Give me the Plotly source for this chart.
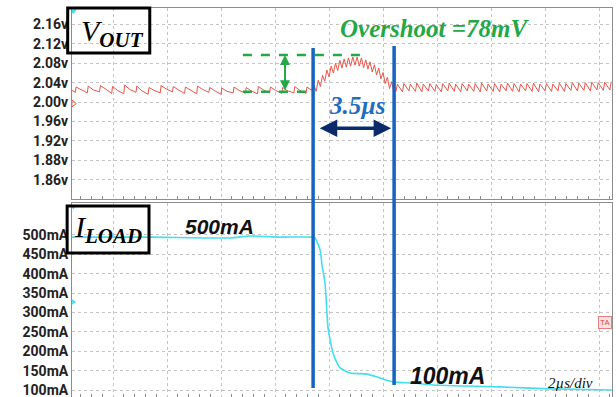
import plotly.graph_objects as go

# ---------------- data (time in µs, Vout in V, Iload in mA) ----------------
pre_t = [-1.52, -1.40, -1.37, -1.18, -0.95, -0.92, -0.73, -0.50, -0.47, -0.28, -0.05, -0.02, 0.17,
         0.40, 0.43, 0.62, 0.85, 0.88, 1.07, 1.30, 1.33, 1.52, 1.75, 1.78, 1.97, 2.20, 2.23, 2.42,
         2.65, 2.68, 2.87, 3.10, 3.13, 3.32, 3.55, 3.58, 3.77, 4.00, 4.03, 4.22, 4.45, 4.48, 4.67,
         4.90, 4.93, 5.12, 5.35, 5.38, 5.57, 5.80, 5.83, 6.02, 6.25, 6.28, 6.47, 6.70, 6.73, 6.92,
         7.15, 7.18, 7.37]
pre_v = [2.024, 2.020, 2.031, 2.026, 2.019, 2.033, 2.025, 2.021, 2.034, 2.027, 2.018, 2.032, 2.024,
         2.017, 2.035, 2.026, 2.020, 2.033, 2.023, 2.016, 2.030, 2.024, 2.019, 2.034, 2.027, 2.021,
         2.032, 2.025, 2.018, 2.031, 2.024, 2.017, 2.033, 2.026, 2.020, 2.030, 2.023, 2.016, 2.029,
         2.022, 2.019, 2.031, 2.024, 2.018, 2.030, 2.023, 2.017, 2.032, 2.025, 2.019, 2.031, 2.024,
         2.018, 2.030, 2.023, 2.019, 2.032, 2.024, 2.018, 2.031, 2.024]

hump_t = [7.44, 7.52, 7.60, 7.68, 7.76, 7.84, 7.92, 8.00, 8.08, 8.16, 8.24, 8.32, 8.40, 8.48, 8.56,
          8.64, 8.72, 8.80, 8.88, 8.96, 9.04, 9.12, 9.20, 9.28, 9.36, 9.44, 9.52, 9.60, 9.68, 9.76,
          9.84, 9.92, 10.00, 10.08, 10.16, 10.24, 10.32, 10.40]
hump_v = [2.035, 2.022, 2.045, 2.032, 2.055, 2.043, 2.066, 2.052, 2.074, 2.060, 2.080, 2.065, 2.086,
          2.070, 2.089, 2.072, 2.091, 2.074, 2.093, 2.076, 2.093, 2.074, 2.091, 2.071, 2.087, 2.068,
          2.083, 2.062, 2.077, 2.056, 2.070, 2.048, 2.061, 2.038, 2.051, 2.028, 2.042, 2.020]

post_t = [10.48, 10.53, 10.72, 10.77, 10.96, 11.01, 11.20, 11.25, 11.44, 11.49, 11.68, 11.73,
          11.92, 11.97, 12.16, 12.21, 12.40, 12.45, 12.64, 12.69, 12.88, 12.93, 13.12, 13.17,
          13.36, 13.41, 13.60, 13.65, 13.84, 13.89, 14.08, 14.13, 14.32, 14.37, 14.56, 14.61,
          14.80, 14.85, 15.04, 15.09, 15.28, 15.33, 15.52, 15.57, 15.76, 15.81, 16.00, 16.05,
          16.24, 16.29, 16.48, 16.53, 16.72, 16.77, 16.96, 17.01, 17.20, 17.25, 17.44, 17.49,
          17.68, 17.73, 17.92, 17.97, 18.16, 18.21, 18.40, 18.45]
post_v = [2.022, 2.037, 2.021, 2.038, 2.023, 2.037, 2.022, 2.039, 2.021, 2.037, 2.023, 2.038,
          2.022, 2.036, 2.021, 2.038, 2.023, 2.039, 2.022, 2.037, 2.021, 2.038, 2.023, 2.037,
          2.022, 2.038, 2.021, 2.039, 2.023, 2.037, 2.022, 2.038, 2.021, 2.037, 2.023, 2.039,
          2.022, 2.038, 2.021, 2.037, 2.023, 2.038, 2.022, 2.039, 2.021, 2.037, 2.023, 2.038,
          2.022, 2.037, 2.023, 2.039, 2.022, 2.038, 2.024, 2.040, 2.023, 2.039, 2.024, 2.040,
          2.023, 2.041, 2.025, 2.040, 2.024, 2.041, 2.025, 2.042]

iload_t = [-1.52, 1.37, 4.33, 5.07, 6.19, 7.41, 7.48, 7.67, 7.74, 7.85, 7.96, 8.04, 8.15, 8.26,
           8.41, 8.78, 9.41, 9.89, 10.37, 11.11, 11.85, 14.33, 16.19, 18.48]
iload_ma = [494, 494, 492, 497, 494, 494, 492, 461, 422, 376, 262, 229, 195, 175,
            157, 144, 141, 131, 121, 118, 113, 108, 103, 100]

v_ticks = [2.16, 2.12, 2.08, 2.04, 2.00, 1.96, 1.92, 1.88, 1.84]
v_ticktext = ["2.16v", "2.12v", "2.08v", "2.04v", "2.00v", "1.96v", "1.92v", "1.88v", "1.86v"]
i_ticks = [500, 450, 400, 350, 300, 250, 200, 150, 100]
i_ticktext = ["500mA", "450mA", "400mA", "350mA", "300mA", "250mA", "200mA", "150mA", "100mA"]

t_step_start, t_step_end = 7.41, 10.41
v_base, v_peak = 2.021, 2.097

# ---------------- figure ----------------
def pairs(t, v):
    n = min(len(t), len(v))
    return list(t[:n]), list(v[:n])

vt = []; vv = []
for a, b in [(pre_t, pre_v), (hump_t, hump_v), (post_t, post_v)]:
    x, y = pairs(a, b)
    vt += x; vv += y

RED = "#E8564A"
CYAN = "#45DDF0"
GREEN = "#23A845"
BLUE = "#1565C0"
NAVY = "#0B2A6A"
GRID = "#C4C4C4"
FRAME = "#8C8C8C"

fig = go.Figure()
fig.add_trace(go.Scatter(x=vt, y=vv, mode="lines", line=dict(color=RED, width=1.0),
                         xaxis="x", yaxis="y", hoverinfo="skip"))
fig.add_trace(go.Scatter(x=iload_t, y=iload_ma, mode="lines", line=dict(color=CYAN, width=1.6, shape="spline", smoothing=0.6),
                         xaxis="x2", yaxis="y2", hoverinfo="skip"))
# scope channel markers
fig.add_trace(go.Scatter(x=[-1.47], y=[1.997], mode="markers",
                         marker=dict(symbol="triangle-right-open", color=RED, size=6, line=dict(width=1)),
                         xaxis="x", yaxis="y", hoverinfo="skip"))
fig.add_trace(go.Scatter(x=[-1.47], y=[2.188], mode="markers",
                         marker=dict(symbol="triangle-down", color=CYAN, size=6),
                         xaxis="x", yaxis="y", hoverinfo="skip"))
fig.add_trace(go.Scatter(x=[-1.47, -1.47], y=[572, 327], mode="markers",
                         marker=dict(symbol=["triangle-down", "triangle-right"], color=CYAN, size=5),
                         xaxis="x2", yaxis="y2", hoverinfo="skip"))

xcommon = dict(range=[-1.52, 18.48], tick0=0, dtick=2, showticklabels=False, showgrid=True,
               gridcolor=GRID, griddash="dot", gridwidth=1, zeroline=False,
               showline=True, linecolor=FRAME, linewidth=1, mirror=True,
               ticks="", minor=dict(ticks="inside", dtick=0.4, ticklen=3, tickcolor=FRAME, showgrid=False))
ycommon = dict(tickmode="array", showgrid=True, gridcolor=GRID, griddash="dot", gridwidth=1,
               zeroline=False, showline=True, linecolor=FRAME, linewidth=1, mirror=True,
               ticks="", ticklabeloverflow="allow",
               tickfont=dict(family="Roboto", size=14, color="#222222", weight="bold"))

fig.update_layout(
    width=616, height=397,
    margin=dict(l=72, r=4, t=8, b=0),
    paper_bgcolor="white", plot_bgcolor="white",
    showlegend=False,
    xaxis=dict(domain=[0, 1], anchor="y", **xcommon),
    xaxis2=dict(domain=[0, 1], anchor="y2", matches="x", **xcommon),
    yaxis=dict(domain=[0.509, 1.0], anchor="x", range=[1.80, 2.194],
               tickvals=v_ticks, ticktext=v_ticktext, **ycommon),
    yaxis2=dict(domain=[0.0, 0.4987], anchor="x2", range=[82, 582],
                tickvals=i_ticks, ticktext=i_ticktext, **ycommon),
)

shapes = []
# label boxes
shapes.append(dict(type="rect", xref="paper", yref="paper", x0=-0.008, x1=0.144, y0=0.884, y1=1.0,
                   line=dict(color="black", width=3), fillcolor="rgba(0,0,0,0)", layer="above"))
shapes.append(dict(type="rect", xref="paper", yref="paper", x0=-0.009, x1=0.1426, y0=0.370, y1=0.491,
                   line=dict(color="black", width=3), fillcolor="rgba(0,0,0,0)", layer="above"))
# blue markers across both panels
shapes.append(dict(type="line", xref="x", yref="paper", x0=t_step_start, x1=t_step_start, y0=0.023, y1=0.897,
                   line=dict(color=BLUE, width=3.5), layer="above"))
shapes.append(dict(type="line", xref="x", yref="paper", x0=t_step_end, x1=t_step_end, y0=0.031, y1=0.902,
                   line=dict(color=BLUE, width=3.5), layer="above"))
# green dashed overshoot levels
shapes.append(dict(type="line", xref="x", yref="y", x0=4.81, x1=9.33, y0=v_peak, y1=v_peak,
                   line=dict(color=GREEN, width=2.5, dash="dash"), layer="above"))
shapes.append(dict(type="line", xref="x", yref="y", x0=4.81, x1=t_step_start, y0=v_base, y1=v_base,
                   line=dict(color=GREEN, width=2.5, dash="dash"), layer="above"))
fig.update_layout(shapes=shapes)

ann = []
# green double arrow
ann.append(dict(x=6.37, y=v_peak, ax=6.37, ay=v_base, xref="x", yref="y", axref="x", ayref="y",
                text="", showarrow=True, arrowhead=2, arrowside="end+start", arrowsize=1,
                arrowwidth=2, arrowcolor=GREEN))
# navy double arrow
ann.append(dict(x=10.30, y=1.946, ax=7.60, ay=1.946, xref="x", yref="y", axref="x", ayref="y",
                text="", showarrow=True, arrowhead=2, arrowside="end+start", arrowsize=1.0,
                arrowwidth=3.5, arrowcolor=NAVY))
ann.append(dict(x=9.04, y=1.992, xref="x", yref="y", text="<b><i>3.5µs</i></b>", showarrow=False,
                font=dict(family="Liberation Serif", size=25, color="#1F6DC2")))
ann.append(dict(x=11.89, y=2.151, xref="x", yref="y", text="<b><i>Overshoot =78mV</i></b>", showarrow=False,
                font=dict(family="Liberation Serif", size=25, color=GREEN)))
ann.append(dict(x=3.93, y=522, xref="x2", yref="y2", text="<b><i>500mA</i></b>", showarrow=False,
                font=dict(family="Liberation Sans", size=21, color="#111111")))
ann.append(dict(x=12.37, y=137, xref="x2", yref="y2", text="<b><i>100mA</i></b>", showarrow=False,
                font=dict(family="Liberation Sans", size=23, color="#111111")))
ann.append(dict(x=16.96, y=119, xref="x2", yref="y2", text="<i>2µs/div</i>", showarrow=False,
                font=dict(family="Liberation Serif", size=15, color="#111111")))
# box labels
ann.append(dict(x=0.013, y=0.99, xref="paper", yref="paper", xanchor="left", yanchor="top",
                text="<i>V</i><sub><b><i>OUT</i></b></sub>",
                showarrow=False, font=dict(family="Liberation Serif", size=30, color="black")))
ann.append(dict(x=0.0, y=0.485, xref="paper", yref="paper", xanchor="left", yanchor="top",
                text="<i>I</i><sub><b><i>LOAD</i></b></sub>",
                showarrow=False, font=dict(family="Liberation Serif", size=30, color="black")))
# trigger marker
ann.append(dict(x=1.0, y=275, xref="paper", yref="y2", xanchor="right", text="TA", showarrow=False,
                font=dict(family="Roboto", size=8, color="#E04040"), bgcolor="#FBE3E3",
                bordercolor="#E88080", borderwidth=1, borderpad=1))
fig.update_layout(annotations=ann)

fig.write_html("out.html")
